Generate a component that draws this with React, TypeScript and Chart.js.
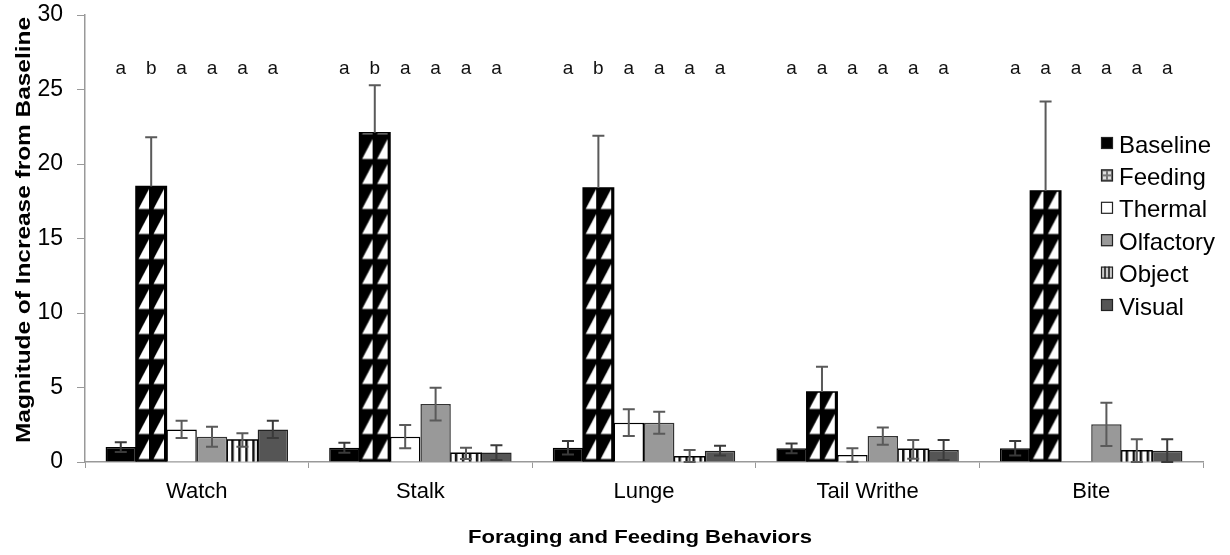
import React, { useEffect, useRef } from "react";
import { Chart, registerables } from "chart.js";

Chart.register(...registerables);

const FONT = "'Liberation Sans', Arial, Helvetica, sans-serif";

const categories = ["Watch", "Stalk", "Lunge", "Tail Writhe", "Bite"];
const seriesNames = ["Baseline", "Feeding", "Thermal", "Olfactory", "Object", "Visual"];

const baselineVals = [1.0, 0.96, 0.96, 0.92, 0.92];
const baselineErr = [0.33, 0.34, 0.45, 0.33, 0.49];
const feedingVals = [18.5, 22.1, 18.4, 4.7, 18.2];
const feedingErr = [3.3, 3.2, 3.5, 1.7, 6.0];
const thermalVals = [2.19, 1.7, 2.64, 0.47, null];
const thermalErr = [0.58, 0.78, 0.9, 0.45, null];
const olfactoryVals = [1.7, 3.89, 2.64, 1.74, 2.53];
const olfactoryErr = [0.67, 1.1, 0.74, 0.58, 1.45];
const objectVals = [1.48, 0.58, 0.36, 0.85, 0.76];
const objectErr = [0.45, 0.38, 0.45, 0.63, 0.76];
const visualVals = [2.19, 0.63, 0.76, 0.8, 0.76];
const visualErr = [0.58, 0.5, 0.33, 0.67, 0.76];

const letterRows = [
  ["a", "b", "a", "a", "a", "a"],
  ["a", "b", "a", "a", "a", "a"],
  ["a", "b", "a", "a", "a", "a"],
  ["a", "a", "a", "a", "a", "a"],
  ["a", "a", "a", "a", "a", "a"],
];
const letterLevel = 26.4;

const yMin = 0;
const yMax = 30;
const yStep = 5;

const yTitle = "Magnitude of Increase from Baseline";
const xTitle = "Foraging and Feeding Behaviors";

function makeFeedingTile(): HTMLCanvasElement {
  const c = document.createElement("canvas");
  c.width = 15;
  c.height = 25;
  const g = c.getContext("2d")!;
  g.fillStyle = "#000";
  g.fillRect(0, 0, 15, 25);
  g.fillStyle = "#fff";
  g.beginPath();
  g.moveTo(2.5, 22.5);
  g.lineTo(13, 2.5);
  g.lineTo(13, 22.5);
  g.closePath();
  g.fill();
  return c;
}

function makeObjectTile(): HTMLCanvasElement {
  const c = document.createElement("canvas");
  c.width = 7;
  c.height = 4;
  const g = c.getContext("2d")!;
  g.fillStyle = "#fff";
  g.fillRect(0, 0, 7, 4);
  g.fillStyle = "#111";
  g.fillRect(4, 0, 2.5, 4);
  return c;
}

export default function App() {
  const ref = useRef<HTMLCanvasElement | null>(null);

  useEffect(() => {
    document.body.style.margin = "0";
    const canvas = ref.current!;
    const feedingTile = makeFeedingTile();
    const objectTile = makeObjectTile();

    const errs = [baselineErr, feedingErr, thermalErr, olfactoryErr, objectErr, visualErr];

    const patternOverlay = {
      id: "patternOverlay",
      afterDatasetDraw(chart: any, args: any) {
        const idx = args.index;
        if (idx !== 1 && idx !== 4) return;
        const ctx = chart.ctx as CanvasRenderingContext2D;
        const meta = chart.getDatasetMeta(idx);
        const tile = idx === 1 ? feedingTile : objectTile;
        meta.data.forEach((el: any, j: number) => {
          const v = chart.data.datasets[idx].data[j];
          if (v == null) return;
          const p = el.getProps(["x", "y", "base", "width"], true);
          const left = p.x - p.width / 2;
          const pat = ctx.createPattern(tile, "repeat")!;
          pat.setTransform(new DOMMatrix().translate(left, p.base));
          ctx.save();
          ctx.fillStyle = pat;
          ctx.fillRect(left, p.y, p.width, p.base - p.y);
          ctx.strokeStyle = "#000";
          ctx.lineWidth = 1.5;
          ctx.beginPath();
          ctx.moveTo(left, p.base);
          ctx.lineTo(left, p.y);
          ctx.lineTo(left + p.width, p.y);
          ctx.lineTo(left + p.width, p.base);
          ctx.stroke();
          ctx.restore();
        });
      },
    };

    const extras = {
      id: "extras",
      afterDatasetsDraw(chart: any) {
        const ctx = chart.ctx as CanvasRenderingContext2D;
        const ys = chart.scales.y;
        // error bars
        chart.data.datasets.forEach((ds: any, i: number) => {
          const meta = chart.getDatasetMeta(i);
          meta.data.forEach((el: any, j: number) => {
            const v = ds.data[j];
            const e = errs[i][j];
            if (v == null || e == null) return;
            const x = el.x;
            const yTop = ys.getPixelForValue(v + e);
            const yBot = i === 1 ? ys.getPixelForValue(v) : ys.getPixelForValue(Math.max(0, v - e));
            ctx.save();
            ctx.strokeStyle = i === 5 || i === 0 ? "#3a3a3a" : "#5a5a5a";
            ctx.lineWidth = 2;
            ctx.beginPath();
            ctx.moveTo(x, yTop);
            ctx.lineTo(x, yBot);
            ctx.moveTo(x - 6, yTop);
            ctx.lineTo(x + 6, yTop);
            if (i !== 1) {
              ctx.moveTo(x - 6, yBot);
              ctx.lineTo(x + 6, yBot);
            }
            ctx.stroke();
            ctx.restore();
          });
        });
        // significance letters
        ctx.save();
        ctx.fillStyle = "#111";
        ctx.font = `19px ${FONT}`;
        ctx.textAlign = "center";
        ctx.textBaseline = "middle";
        const ly = ys.getPixelForValue(letterLevel);
        letterRows.forEach((row, j) => {
          row.forEach((t, i) => {
            const el = chart.getDatasetMeta(i).data[j];
            ctx.fillText(t, el.x, ly);
          });
        });
        ctx.restore();
      },
      afterDraw(chart: any) {
        const ctx = chart.ctx as CanvasRenderingContext2D;
        // y-axis title
        ctx.save();
        ctx.fillStyle = "#000";
        ctx.font = `bold 20px ${FONT}`;
        ctx.textAlign = "center";
        ctx.textBaseline = "middle";
        let w = ctx.measureText(yTitle).width;
        ctx.translate(24, 230);
        ctx.rotate(-Math.PI / 2);
        ctx.scale(426 / w, 1);
        ctx.fillText(yTitle, 0, 0);
        ctx.restore();
        // x-axis title
        ctx.save();
        ctx.fillStyle = "#000";
        ctx.font = `bold 18px ${FONT}`;
        ctx.textAlign = "center";
        ctx.textBaseline = "middle";
        w = ctx.measureText(xTitle).width;
        ctx.translate(640, 538);
        ctx.scale(344 / w, 1);
        ctx.fillText(xTitle, 0, 0);
        ctx.restore();
        // legend
        ctx.save();
        ctx.font = `24px ${FONT}`;
        ctx.textBaseline = "middle";
        ctx.textAlign = "left";
        const bx = 1101;
        const sz = 12;
        seriesNames.forEach((name, i) => {
          const cy = 145 + i * 32.4;
          const top = cy - sz / 2 - 2;
          if (i === 1) {
            ctx.fillStyle = "#777";
            ctx.fillRect(bx, top, sz, sz);
            ctx.fillStyle = "#ddd";
            ctx.fillRect(bx + 2, top + 2, 3, 3);
            ctx.fillRect(bx + 7, top + 2, 3, 3);
            ctx.fillRect(bx + 2, top + 7, 3, 3);
            ctx.fillRect(bx + 7, top + 7, 3, 3);
          } else if (i === 4) {
            ctx.fillStyle = "#ccc";
            ctx.fillRect(bx, top, sz, sz);
            ctx.fillStyle = "#444";
            ctx.fillRect(bx + 3, top, 2, sz);
            ctx.fillRect(bx + 7, top, 2, sz);
          } else {
            const fills = ["#000", "", "#fff", "#999", "", "#555"];
            ctx.fillStyle = fills[i];
            ctx.fillRect(bx, top, sz, sz);
          }
          ctx.strokeStyle = "#222";
          ctx.lineWidth = 1.2;
          ctx.strokeRect(bx + 0.5, top + 0.5, sz - 1, sz - 1);
          ctx.fillStyle = "#000";
          ctx.fillText(name, bx + 18, cy + 1);
        });
        ctx.restore();
      },
    };

    const chart = new Chart(canvas, {
      type: "bar",
      data: {
        labels: categories,
        datasets: [
          { label: seriesNames[0], data: baselineVals, backgroundColor: "#000", borderColor: "#000", borderWidth: 1.5 },
          { label: seriesNames[1], data: feedingVals, backgroundColor: "#000", borderColor: "#000", borderWidth: 1.5 },
          { label: seriesNames[2], data: thermalVals, backgroundColor: "#fff", borderColor: "#000", borderWidth: 1.5 },
          { label: seriesNames[3], data: olfactoryVals, backgroundColor: "#999", borderColor: "#333", borderWidth: 1.5 },
          { label: seriesNames[4], data: objectVals, backgroundColor: "#fff", borderColor: "#000", borderWidth: 1.5 },
          { label: seriesNames[5], data: visualVals, backgroundColor: "#555", borderColor: "#222", borderWidth: 1.5 },
        ] as any,
      },
      options: {
        responsive: false,
        animation: false,
        datasets: { bar: { categoryPercentage: 0.816, barPercentage: 1.0 } },
        layout: { padding: { top: 0, right: 27, left: 0, bottom: 0 } },
        plugins: { legend: { display: false }, tooltip: { enabled: false } },
        scales: {
          x: {
            offset: true,
            grid: { display: true, drawOnChartArea: false, drawTicks: true, tickLength: 6, color: "#999", offset: true },
            border: { color: "#999", width: 1.5 },
            ticks: { font: { size: 22, family: FONT }, color: "#000", padding: 11 },
            afterFit: (s: any) => { s.height = 93; },
          },
          y: {
            min: yMin,
            max: yMax,
            grid: { display: true, drawOnChartArea: false, drawTicks: true, tickLength: 8, color: "#999" },
            border: { color: "#999", width: 1.5 },
            ticks: { stepSize: yStep, font: { size: 23, family: FONT, lineHeight: 0.1 }, color: "#000", padding: 14 },
            afterFit: (s: any) => { s.width = 85; },
          },
        },
      } as any,
      plugins: [patternOverlay, extras],
    });

    return () => chart.destroy();
  }, []);

  return (
    <div style={{ width: 1230, height: 555, background: "#fff" }}>
      <canvas ref={ref} width={1230} height={555} style={{ display: "block" }} />
    </div>
  );
}
